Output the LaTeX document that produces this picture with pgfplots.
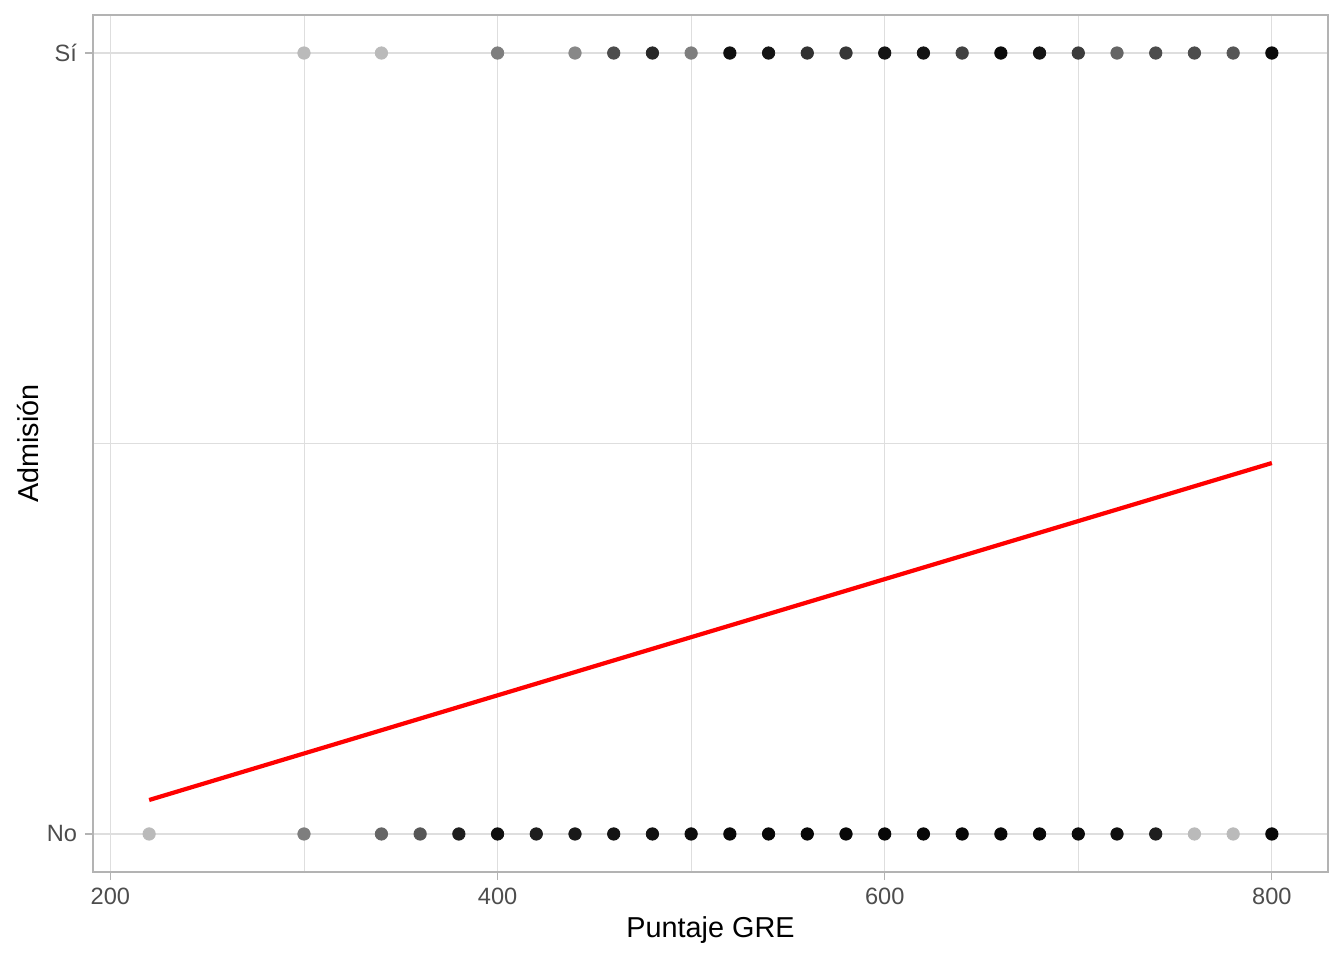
\documentclass[border=0pt]{standalone}
\usepackage{fontspec}
\setmainfont{Liberation Sans}
\usepackage{pgfplots}
\pgfplotsset{compat=1.18}
\definecolor{gridc}{HTML}{DEDEDE}
\definecolor{borderc}{HTML}{B3B3B3}
\definecolor{tickc}{HTML}{4D4D4D}
\begin{document}
\begin{tikzpicture}
% points: x, y (0 = No, 1 = Si), g = grey level of the stacked marks (0 black .. 255 white)
\begin{axis}[
  name=ax,
  scale only axis, width=617.5pt, height=428.5pt,
  xmin=191, xmax=829, ymin=-0.0487, ymax=1.0487,
  xtick={200,400,600,800}, minor xtick={300,500,700},
  ytick={0,1}, yticklabels={No,Sí}, minor ytick={0.5},
  grid=both,
  major grid style={gridc, line width=0.6pt},
  minor grid style={gridc, line width=0.35pt},
  axis line style={borderc, line width=0.6pt},
  tick style={borderc, line width=0.6pt},
  tick align=outside, major tick length=4pt, minor tick length=0pt,
  xtick pos=bottom, ytick pos=left,
  tick label style={font=\fontsize{11.8}{13}\selectfont, text=tickc},
  xticklabel style={yshift=-0.5pt},
  yticklabel style={xshift=-0.5pt},
  /pgf/number format/assume math mode=true,
  colormap/blackwhite, point meta min=0, point meta max=255,
]
\addplot[scatter, only marks, mark=*, mark size=3.1pt, point meta=explicit,
  scatter/use mapped color={draw=mapped color, fill=mapped color}]
  table[meta=g] {
x y g
300 1 185
340 1 185
400 1 125
440 1 135
460 1 75
480 1 40
500 1 125
520 1 15
540 1 20
560 1 50
580 1 55
600 1 20
620 1 20
640 1 65
660 1 10
680 1 20
700 1 60
720 1 100
740 1 75
760 1 75
780 1 85
800 1 10
220 0 185
300 0 125
340 0 100
360 0 85
380 0 30
400 0 15
420 0 30
440 0 25
460 0 20
480 0 18
500 0 12
520 0 8
540 0 8
560 0 8
580 0 8
600 0 8
620 0 8
640 0 8
660 0 8
680 0 8
700 0 12
720 0 15
740 0 30
760 0 185
780 0 185
800 0 8
};
\addplot[red, line width=2.1pt] coordinates {(220,0.0435) (500,0.252) (800,0.475)};
\end{axis}
\node at ([yshift=-29pt]ax.south) {\fontsize{14.4}{16}\selectfont Puntaje GRE};
\node[rotate=90] at ([xshift=-32.5pt]ax.west) {\fontsize{14.4}{16}\selectfont Admisión};
\path (ax.south west) ++(-46.5pt,-44pt) rectangle ([shift={(8pt,7.5pt)}]ax.north east);
\end{tikzpicture}
\end{document}
